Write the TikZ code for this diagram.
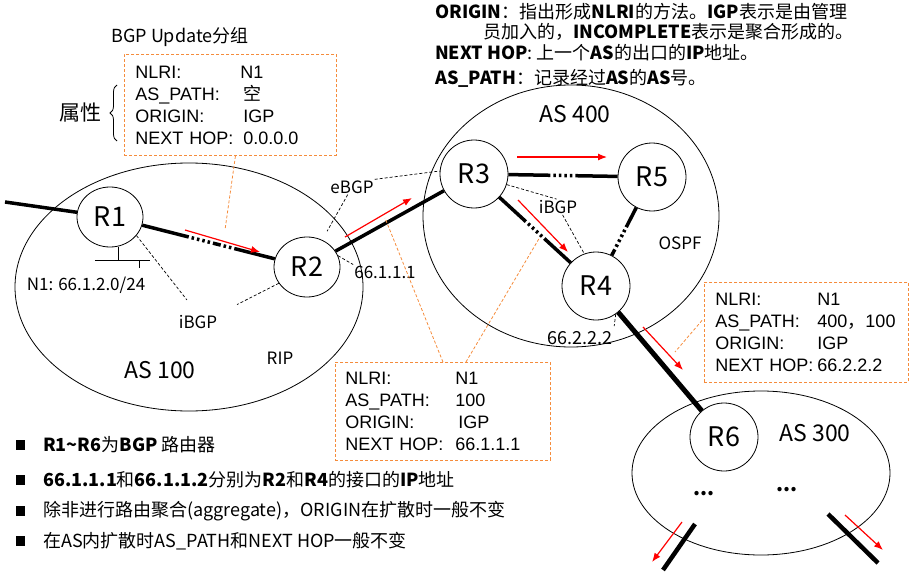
\documentclass[tikz,border=0pt]{standalone}
\usepackage{fontspec}
\setmainfont{Noto Sans CJK SC}
\newfontfamily\arialfont{Liberation Sans}
\newfontfamily\cjkfont{Noto Sans CJK SC}
\usepackage{tikz}
\usetikzlibrary{shapes.geometric, arrows.meta}
\usetikzlibrary{positioning, calc, decorations.pathreplacing}
\definecolor{calloutorange}{RGB}{245,140,60}
\tikzstyle{router} = [ellipse, draw=black, fill=white, line width=0.8pt, minimum width=66pt, minimum height=60pt, inner sep=0pt, font=\fontsize{27}{27}\selectfont]
\tikzstyle{asarea} = [ellipse, draw=black, line width=0.8pt, inner sep=0pt]
\tikzstyle{aslabel} = [inner sep=1pt, font=\fontsize{23}{23}\selectfont]
\tikzstyle{tag} = [inner sep=1pt, font=\fontsize{17}{17}\selectfont]
\tikzstyle{linkline} = [line width=3.5pt]
\tikzstyle{session} = [dash pattern=on 3pt off 2pt, line width=0.7pt]
\tikzstyle{calloutline} = [draw=calloutorange, dash pattern=on 3pt off 2pt, line width=0.8pt]
\tikzstyle{updbox} = [draw=calloutorange, dash pattern=on 3pt off 2pt, line width=0.9pt, anchor=north west, align=left, font=\arialfont\fontsize{18}{22}\selectfont, inner xsep=11pt, inner ysep=0pt]
\tikzstyle{flow} = [red, line width=1.2pt, -{Latex[length=9pt,width=7pt]}]
\tikzstyle{note} = [anchor=west, inner sep=0pt, font=\fontsize{18}{18}\selectfont]
\tikzset{
  gaplong/.style={dash pattern=on #1 off 3pt on 2.5pt off 3pt on 2.5pt off 3pt on 2.5pt off 3pt on 2.5pt off 3pt on 8pt off 3pt on 2.5pt off 3pt on 2.5pt off 3pt on 500pt},
  gapshort/.style={dash pattern=on #1 off 3pt on 2.5pt off 3pt on 2.5pt off 3pt on 2.5pt off 3pt on 2.5pt off 3pt on 500pt}
}
\newcommand{\field}[3][105pt]{\makebox[#1][l]{#2}#3}

\begin{document}
\begin{tikzpicture}[x=1pt, y=-1pt]
    \useasboundingbox (0,0) rectangle (911,578);

    % autonomous systems
    \node[asarea, minimum width=348pt, minimum height=248pt] (as100) at (189,287) {};
    \node[asarea, minimum width=296pt, minimum height=262pt] (as400) at (571,216) {};
    \node[asarea, minimum width=258pt, minimum height=164pt] (as300) at (761,473) {};

    % routers
    \node[router] (R1) at (110,217) {R1};
    \node[router] (R2) at (307,267) {R2};
    \node[router, minimum width=68pt, minimum height=68pt] (R3) at (474,174) {R3};
    \node[router, minimum width=68pt, minimum height=68pt] (R5) at (652,177) {R5};
    \node[router, minimum width=68pt, minimum height=68pt] (R4) at (596,286) {R4};
    \node[router, minimum width=68pt, minimum height=68pt] (R6) at (724,437) {R6};

    % labels
    \node[aslabel] (as100lbl) at (160,370) {AS 100};
    \node[aslabel] (as400lbl) at (575,114) {AS 400};
    \node[aslabel] (as300lbl) at (815,433) {AS 300};
    \node[tag] (rip) at (280,358) {RIP};
    \node[tag] (ibgp1) at (198,322) {iBGP};
    \node[tag] (n1) at (86,285) {N1: 66.1.2.0/24};
    \node[tag] (ebgp) at (352,187) {eBGP};
    \node[tag] (ip1) at (385,272) {66.1.1.1};
    \node[tag] (ibgp2) at (558,207) {iBGP};
    \node[tag] (ospf) at (680,243) {OSPF};
    \node[tag, font=\fontsize{18}{18}\selectfont] (ip2) at (580,338) {66.2.2.2};
    \node[tag, font=\fontsize{20}{20}\selectfont\bfseries] (dotsL) at (704,494) {...};
    \node[tag, font=\fontsize{20}{20}\selectfont\bfseries] (dotsR) at (787,490) {...};

    % update boxes
    \node[updbox, text width=190pt, minimum height=101pt] (upd1) at (124,54) {\field{NLRI:}{N1}\\ \field{AS\_PATH:}{\,{\cjkfont 空}}\\ \field{ORIGIN:}{\,IGP}\\ \field{NEXT HOP:}{\,0.0.0.0}};
    \node[updbox, inner xsep=10pt, text width=195pt, minimum height=98pt] (upd2) at (335,362) {\field[110pt]{NLRI:}{N1}\\ \field[110pt]{AS\_PATH:}{100}\\ \field[110pt]{ORIGIN:}{\,IGP}\\ \field[110pt]{NEXT HOP:}{66.1.1.1}};
    \node[updbox, text width=182pt, minimum height=100pt] (upd3) at (704,282) {\field[102pt]{NLRI:}{N1}\\ \field[102pt]{AS\_PATH:}{400{\cjkfont ，}100}\\ \field[102pt]{ORIGIN:}{IGP}\\ \field[102pt]{NEXT HOP:}{66.2.2.2}};
    \node[font=\fontsize{18}{18}\selectfont] (title) at (180,37) {BGP Update分组};
    \node[font=\fontsize{21}{21}\selectfont] (attr) at (80,113) {属性};
    \draw[line width=0.8pt, decorate, decoration={brace, amplitude=7pt}] (117,141) -- (117,85);

    % links
    \coordinate (west) at (5,202);
    \draw[linkline] (west) -- (R1);
    \draw[linkline, gaplong=48pt] (R1) -- (R2);
    \draw[linkline] (R2) -- (R3);
    \draw[linkline, gapshort=42pt] (R3) -- (R5);
    \draw[linkline, gapshort=36pt] (R3) -- (R4);
    \draw[linkline, gapshort=22pt] (R5) -- (R4);
    \draw[linkline, line width=5pt] (R4) -- (R6);
    \coordinate (exitL1) at (695,524);
    \coordinate (exitL2) at (663,570);
    \coordinate (exitR1) at (828,514);
    \coordinate (exitR2) at (878,563);
    \draw[linkline, line width=4.5pt] (exitL1) -- (exitL2);
    \draw[linkline, line width=4.5pt] (exitR1) -- (exitR2);

    % network N1
    \draw[line width=0.8pt] (R1.-75) -- ++(0,14) coordinate (lan);
    \draw[line width=0.8pt] ($(lan)+(-23,0)$) -- ($(lan)+(32,0)$);
    \draw[line width=0.8pt] ($(lan)+(21,0)$) -- ++(0,7);

    % bgp sessions
    \draw[session, shorten >=18pt] (R1.-35) -- (ibgp1.north);
    \draw[session, shorten >=21pt] (R2.210) -- (ibgp1.north east);
    \draw[session, shorten >=10pt] (ebgp) -- (R2);
    \draw[session] (ebgp.north east) -- (R3.175);
    \draw[session] (R2.20) -- (ip1.north west);
    \draw[session] (R3.-18) -- (ibgp2.100);
    \draw[session] (ibgp2.-60) -- (R4.110);
    \draw[session, shorten >=4pt] (R4.-55) -- (ip2.north east);

    % update propagation
    \coordinate (f1s) at (185,230); \coordinate (f1e) at (260,252);
    \coordinate (f2s) at (345,237); \coordinate (f2e) at (412,198);
    \coordinate (f3s) at (517,157); \coordinate (f3e) at (607,157);
    \coordinate (f4s) at (518,200); \coordinate (f4e) at (568,252);
    \coordinate (f5s) at (643,327); \coordinate (f5e) at (683,370);
    \coordinate (f6s) at (682,522); \coordinate (f6e) at (652,562);
    \coordinate (f7s) at (845,515); \coordinate (f7e) at (883,550);
    \foreach \f in {1,...,7}
        \draw[flow] (f\f s) -- (f\f e);

    % callouts
    \coordinate (c1) at (225,230);
    \coordinate (c2) at (385,218);
    \coordinate (c3) at (540,237);
    \coordinate (c4) at (675,352);
    \draw[calloutline] ($(upd1.south)+(5,0)$) -- (c1);
    \draw[calloutline] (upd2.north) -- (c2);
    \draw[calloutline] ($(upd2.north)+(23,0)$) -- (c3);
    \draw[calloutline] ($(upd3.west)+(-2,-12)$) -- (c4);

    % attribute notes
    \node[note] (note1) at (435,12) {\textbf{ORIGIN}：指出形成\textbf{NLRI}的方法。\textbf{IGP}表示是由管理};
    \node[note] (note2) at (483,32) {员加入的，\textbf{INCOMPLETE}表示是聚合形成的。};
    \node[note] (note3) at (435,53) {\textbf{NEXT HOP}: 上一个\textbf{AS}的出口的\textbf{IP}地址。};
    \node[note] (note4) at (435,78) {\textbf{AS\_PATH}：记录经过\textbf{AS}的\textbf{AS}号。};

    % bullets
    \foreach \y/\txt in {445/{\textbf{R1\textasciitilde R6}为\textbf{BGP} 路由器},
                         480/{\textbf{66.1.1.1}和\textbf{66.1.1.2}分别为\textbf{R2}和\textbf{R4}的接口的\textbf{IP}地址},
                         511/{除非进行路由聚合(aggregate)，ORIGIN在扩散时一般不变},
                         541/{在AS内扩散时AS\_PATH和NEXT HOP一般不变}} {
        \node[fill=black, minimum width=9pt, minimum height=10pt, inner sep=0pt] (bul\y) at (20,\y) {};
        \node[note] (item\y) at (43,\y) {\txt};
    }
\end{tikzpicture}
\end{document}
